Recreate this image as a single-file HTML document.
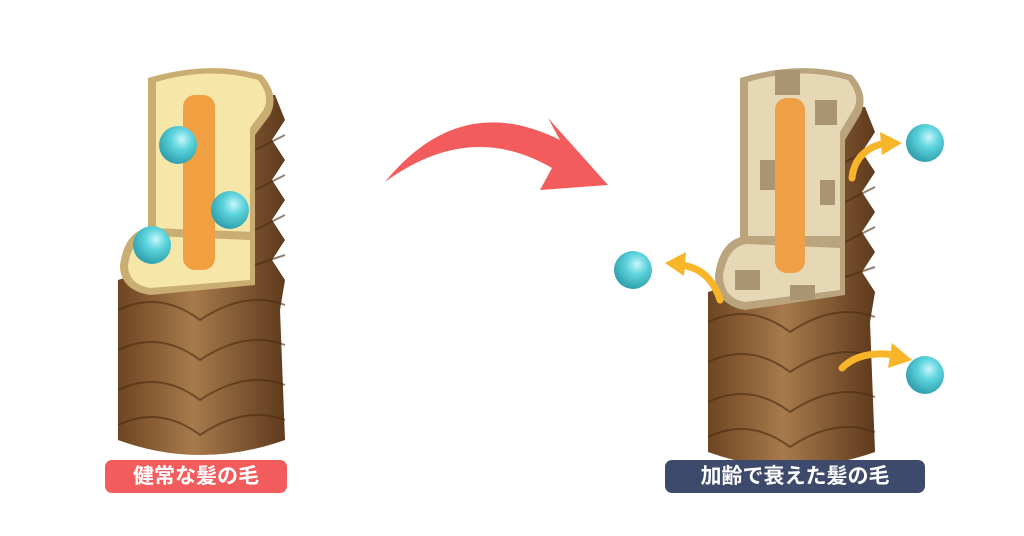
<!DOCTYPE html>
<html><head><meta charset="utf-8"><style>
body{margin:0;background:#fff;width:1024px;height:536px;overflow:hidden}
.lab{position:absolute;top:460px;height:33px;border-radius:7px;color:#fff;font:bold 21px "Liberation Sans","Noto Sans CJK JP",sans-serif;line-height:33px;text-align:center}
</style></head><body>
<svg width="1024" height="536" style="position:absolute;left:0;top:0">
<defs>
<linearGradient id="br" x1="0" x2="1"><stop offset="0" stop-color="#6e4522"/><stop offset=".45" stop-color="#a77a4c"/><stop offset="1" stop-color="#5e3a1c"/></linearGradient>
<radialGradient id="ball" cx=".6" cy=".35" r=".7"><stop offset="0" stop-color="#c8f6fa"/><stop offset=".4" stop-color="#5cd3dc"/><stop offset="1" stop-color="#2a9aa8"/></radialGradient>
<g id="hairbody">
<path d="M150 90 L275 95 L285 120 L272 140 L285 160 L272 180 L285 200 L272 220 L285 240 L272 260 L285 280 L280 310 L285 440 Q200 470 118 440 L118 280 L150 270 Z" fill="url(#br)"/>
<g fill="none" stroke="#4a2c12" stroke-width="2" opacity=".6">
<path d="M118 310 Q160 290 200 320 Q245 290 285 305"/>
<path d="M118 350 Q160 330 200 360 Q245 330 285 345"/>
<path d="M118 390 Q160 370 200 400 Q245 370 285 385"/>
<path d="M118 425 Q160 405 200 435 Q245 405 285 420"/>
<path d="M255 150 L285 135 M255 190 L285 175 M255 230 L285 215 M255 265 L285 255"/>
</g>
</g>
</defs>
<use href="#hairbody"/>
<g transform="translate(590,12)"><use href="#hairbody"/></g>
<path d="M148 78 Q210 60 262 75 Q280 95 270 115 L255 135 L255 235 L148 235 Z" fill="#c9ad72"/>
<path d="M156 82 Q210 66 258 80 Q272 98 262 112 L250 128 L250 232 L156 232 Z" fill="#f6e6a8"/>
<path d="M120 265 Q125 230 150 228 L255 232 L255 285 L150 295 Q120 290 120 265Z" fill="#c9ad72"/>
<path d="M128 265 Q132 238 152 236 L250 240 L250 280 L150 288 Q128 284 128 265Z" fill="#f6e6a8"/>
<rect x="183" y="95" width="32" height="175" rx="12" fill="#f0a040"/>
<path d="M740 78 Q800 60 852 75 Q870 95 860 115 L845 140 L845 240 L740 240 Z" fill="#b9a47e"/>
<path d="M748 82 Q800 66 848 80 Q862 98 852 112 L840 132 L840 236 L748 236 Z" fill="#e6d8b5"/>
<path d="M715 275 Q720 240 745 236 L845 240 L845 295 L745 310 Q715 305 715 275Z" fill="#b9a47e"/>
<path d="M723 275 Q728 246 747 244 L840 248 L840 290 L745 302 Q723 298 723 275Z" fill="#e6d8b5"/>
<g fill="#a99474"><rect x="775" y="70" width="25" height="25"/><rect x="815" y="100" width="22" height="25"/><rect x="760" y="160" width="15" height="30"/><rect x="735" y="270" width="25" height="20"/><rect x="790" y="285" width="25" height="15"/><rect x="820" y="180" width="15" height="25"/></g>
<rect x="775" y="98" width="30" height="175" rx="12" fill="#ef9f45"/>
<path d="M385 182 Q460 90 560 140 L548 118 L608 185 L540 190 L552 168 Q470 120 385 182Z" fill="#f25c5c"/>
<g fill="none" stroke="#f8b52a" stroke-width="7" stroke-linecap="round">
<path d="M852 178 Q855 150 885 143"/><path d="M720 300 Q710 268 680 265"/><path d="M842 368 Q860 350 895 355"/>
</g>
<g fill="#f8b52a"><path d="M880 132 L902 143 L882 155Z"/><path d="M686 252 L665 263 L684 276Z"/><path d="M892 343 L912 360 L888 368Z"/></g>
<g fill="url(#ball)"><circle cx="178" cy="145" r="19"/><circle cx="230" cy="210" r="19"/><circle cx="152" cy="245" r="19"/><circle cx="925" cy="143" r="19"/><circle cx="633" cy="270" r="19"/><circle cx="925" cy="375" r="19"/></g>
</svg>
<div class="lab" style="left:105px;width:182px;background:#f25c5c">健常な髪の毛</div>
<div class="lab" style="left:665px;width:260px;background:#3e4a6b">加齢で衰えた髪の毛</div>
</body></html>
